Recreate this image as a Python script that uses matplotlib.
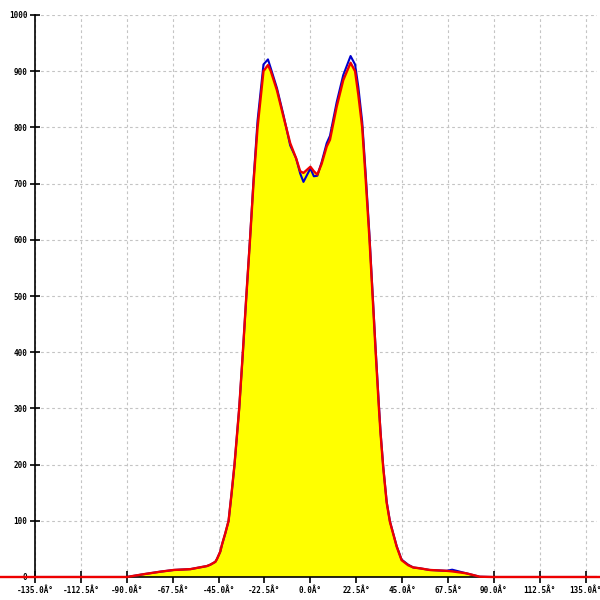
import matplotlib
matplotlib.use("Agg")
import matplotlib.pyplot as plt

# angles (degrees) and the two intensity curves
angles = [-180, -90, -81.7, -73.5, -67, -58.8, -50.7, -49, -46.6, -45.8, -44.2, -43.3,
          -41.7, -40.1, -38.6, -37.2, -34.9, -33.1, -31.4, -29.6, -27.9, -25.9,
          -23.0, -20.8, -19.4, -16.4, -13.2, -9.9, -7.0, -5.0, -3.4, 0, 1.7, 3.4,
          5.5, 8.0, 9.6, 12.9, 16.1, 19.7, 21.9, 23.5, 25.4, 27.1, 28.9, 30.5,
          32.0, 33.6, 34.4, 35.7, 37.4, 39.0, 42.3, 44.7, 47.9, 50.4, 53.6, 58.5,
          66.7, 69.5, 76.5, 83.0, 89.5, 180]
red = [0, 0, 5, 9.5, 12.5, 14, 19.5, 22, 27, 32, 45, 58,
       78, 100, 150, 200, 300, 400, 500, 600, 700, 800,
       900, 911, 900, 866, 819, 772, 745, 722, 719, 730, 722, 716,
       735, 766, 778, 837, 884, 915, 900, 858, 800, 708, 605, 500,
       400, 300, 255, 195, 132, 98, 54, 30, 21, 17, 15.5, 12.5,
       11, 10, 6.5, 0.5, 0, 0]
blue = [0, 0, 5, 9.5, 12.5, 14, 19.5, 22, 27, 32, 45, 58,
        78, 100, 150, 200, 300, 400, 500, 602, 705, 812,
        912, 921, 905, 870, 822, 768, 745, 718, 703, 727, 713, 714,
        738, 772, 785, 845, 893, 927, 912, 872, 810, 718, 612, 505,
        405, 305, 258, 197, 134, 99, 55, 31, 22, 17, 15.5, 12.5,
        11, 13, 6.5, 0.5, 0, 0]

xticks = [-135, -112.5, -90, -67.5, -45, -22.5, 0, 22.5, 45, 67.5, 90, 112.5, 135]
xlabels = ["%.1f\u00c2\u00b0" % t for t in xticks]
yticks = list(range(0, 1001, 100))

fig = plt.figure(figsize=(6, 6), dpi=100)
ax = fig.add_axes([35 / 600, 23 / 600, 562 / 600, 562 / 600])

ax.fill_between(angles, red, 0, color="#ffff00", lw=0, zorder=2)
ax.plot(angles, blue, color="#0000cc", lw=1.5, zorder=3, solid_joinstyle="round")
ax.plot(angles, red, color="#ee0000", lw=1.7, zorder=4, clip_on=False,
        solid_joinstyle="round")

ax.set_xlim(-135, 140.5)
ax.set_ylim(0, 1000)
ax.set_xticks(xticks)
ax.set_xticklabels(xlabels)
ax.set_yticks(yticks)

ax.grid(True, color="#c4c4c4", linestyle=(0, (2.5, 2.5)), lw=0.8, zorder=1)
ax.set_axisbelow(True)

for s in ["top", "right"]:
    ax.spines[s].set_visible(False)
ax.spines["left"].set_linewidth(1.2)
ax.spines["bottom"].set_linewidth(1.2)

ax.tick_params(axis="x", direction="inout", length=9, width=1.2, pad=2,
               labelsize=5.5)
ax.tick_params(axis="y", direction="inout", length=7, width=1.2, pad=2,
               labelsize=5.5)
for lab in ax.get_xticklabels() + ax.get_yticklabels():
    lab.set_family("DejaVu Sans Mono")
    lab.set_fontweight("bold")
    lab.set_zorder(10)

fig.savefig("out.png", dpi=100)
